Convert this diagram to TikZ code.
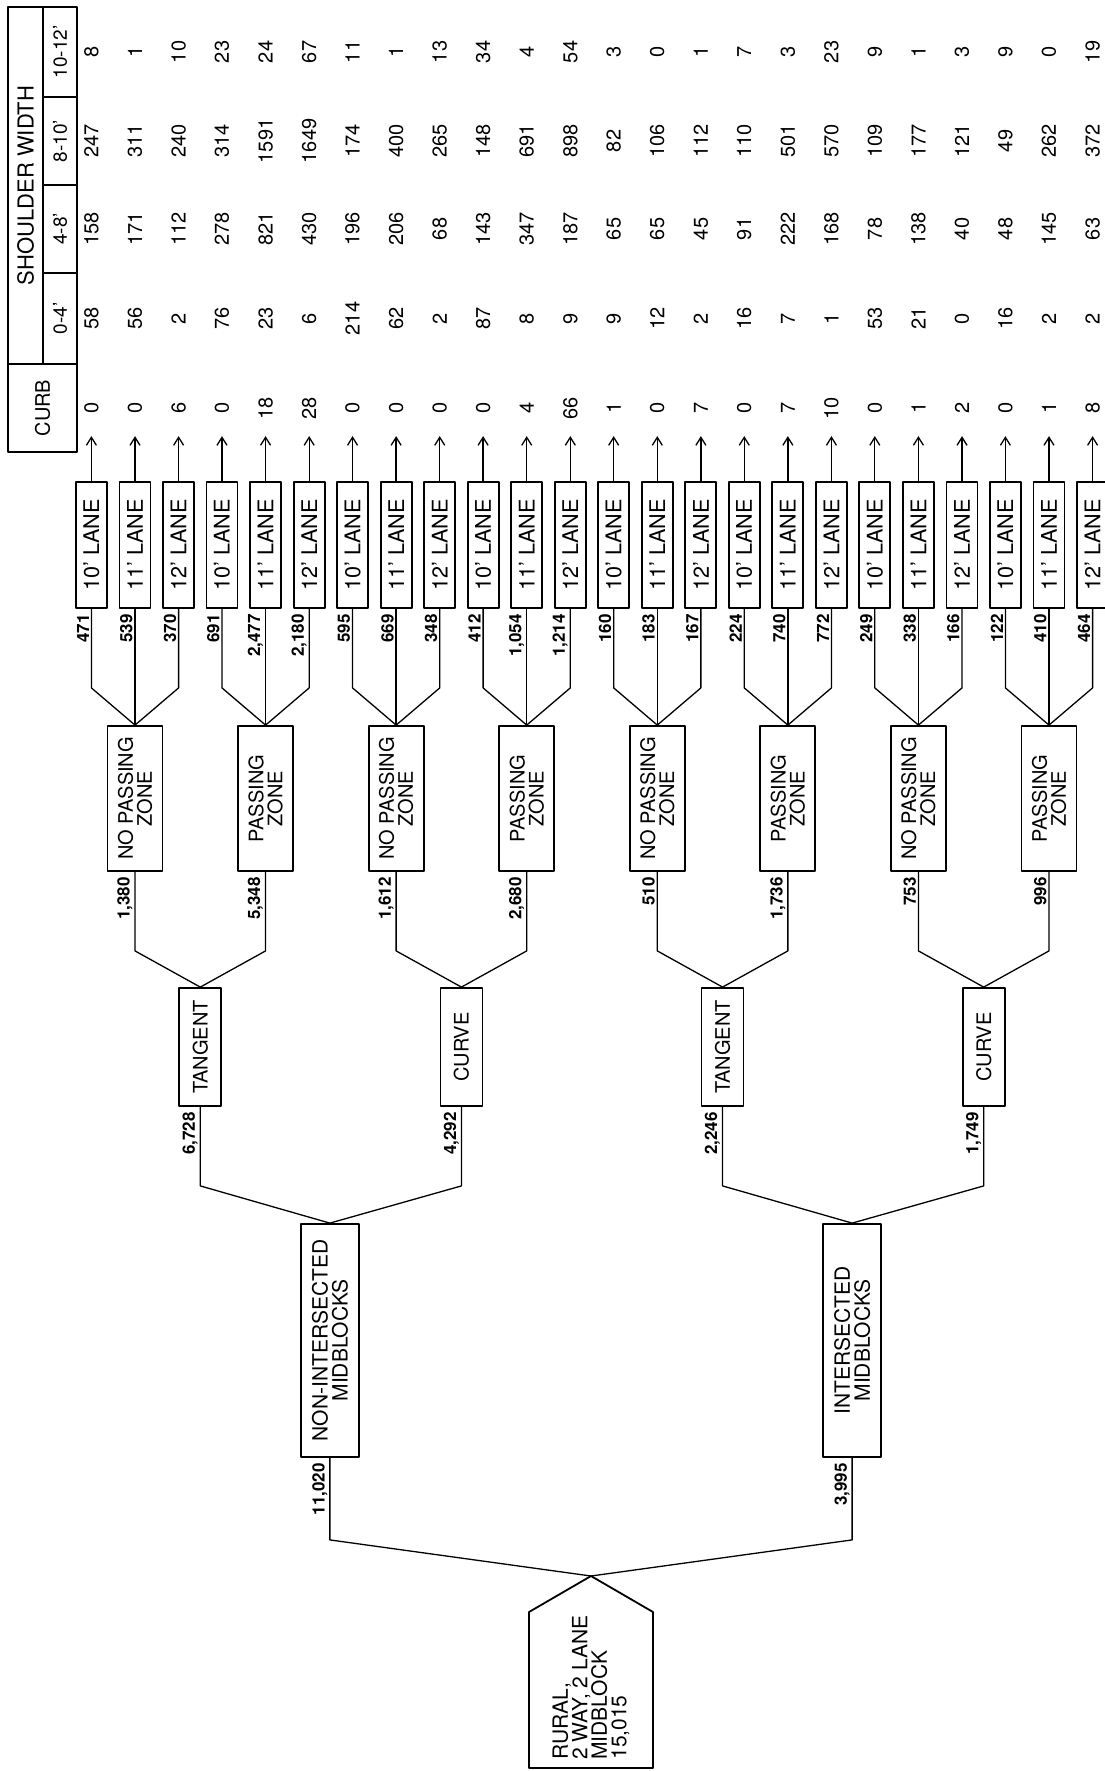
\documentclass[tikz,border=0pt]{standalone}
\usepackage{fontspec}
\setmainfont{TeX Gyre Heros}
\usetikzlibrary{calc, positioning}
\usetikzlibrary{arrows.meta}

\tikzset{
  boxline/.style={line width=0.9pt, line join=round},
  catbox/.style={draw, boxline, rotate=90, inner sep=0pt, align=center,
    font=\fontsize{10}{9.5}\selectfont},
  lanebox/.style={catbox, minimum width=63pt, minimum height=15.5pt, font=\fontsize{10.8}{10}\selectfont},
  zonebox/.style={catbox, minimum width=72.5pt, minimum height=27.5pt},
  roadbox/.style={catbox, minimum width=59pt, minimum height=21pt},
  blockbox/.style={catbox, minimum width=116.5pt, minimum height=29pt, font=\fontsize{10.5}{10}\selectfont},
  hdcell/.style={draw, boxline, rotate=90, inner sep=0pt, font=\fontsize{10}{10}\selectfont},
  cnt/.style={rotate=90, inner sep=0pt, anchor=south east, font=\bfseries\fontsize{8.5}{8.5}\selectfont},
  val/.style={rotate=90, inner sep=0pt, font=\fontsize{10}{10}\selectfont},
  link/.style={line width=0.65pt, line join=round},
  flow/.style={link, -{Straight Barb[length=4pt,width=5pt]}}
}

\begin{document}
\begin{tikzpicture}[x=0.5pt, y=-0.5pt]
\useasboundingbox (0,0) rectangle (1104,1771);
\def\gap{130.57}
\def\lanegap{43.6}
\def\knee{79}

% root
\coordinate (apex) at (591,1576);
\draw[boxline] (apex) -- ++(62,36) -- ++(0,156) -- ++(-124,0) -- ++(0,-156) -- cycle;
\node[val, anchor=west, align=left, font=\fontsize{10.5}{9.75}\selectfont] (root) at (591,1760)
  {RURAL,\\2 WAY, 2 LANE\\MIDBLOCK\\15,015};

% midblocks
\foreach \m/\mt/\mn in {0/NON-INTERSECTED/{11,020}, 1/INTERSECTED/{3,995}}{
  \pgfmathsetmacro{\mx}{134+\gap*(4*\m+1.5)}
  \node[blockbox] (block\m) at (\mx,1340.5) {\mt\\MIDBLOCKS};
  \draw[link] (block\m.west) -- ++(0,82) -- (apex);
  \node[cnt] (blockcnt\m) at ($(block\m.west)+(-2,5)$) {\mn};
}

% tangent / curve
\foreach \r/\rt/\rn in {0/TANGENT/{6,728}, 1/CURVE/{4,292}, 2/TANGENT/{2,246}, 3/CURVE/{1,749}}{
  \pgfmathsetmacro{\rx}{135+\gap*(2*\r+0.5)}
  \pgfmathtruncatemacro{\rb}{\r/2}
  \node[roadbox] (road\r) at (\rx,1047) {\rt};
  \draw[link] (road\r.west) -- ++(0,\knee) -- (block\rb.east);
  \node[cnt] (roadcnt\r) at ($(road\r.west)+(-2,5)$) {\rn};
}

% passing zones
\foreach \z/\zt/\zn in {0/NO PASSING/{1,380}, 1/PASSING/{5,348}, 2/NO PASSING/{1,612}, 3/PASSING/{2,680},
    4/NO PASSING/510, 5/PASSING/{1,736}, 6/NO PASSING/753, 7/PASSING/996}{
  \pgfmathsetmacro{\zx}{135+\gap*\z}
  \pgfmathtruncatemacro{\zr}{\z/2}
  \node[zonebox] (zone\z) at (\zx,798.5) {\zt\\ZONE};
  \draw[link] (zone\z.west) -- ++(0,\knee) -- (road\zr.east);
  \node[cnt] (zonecnt\z) at ($(zone\z.west)+(-2,5)$) {\zn};
}

% lanes and the counts by curb / shoulder width
\foreach [count=\i from 0] \w/\n/\cu/\sa/\sb/\sc/\sd in {
  10/471/0/58/158/247/8, 11/539/0/56/171/311/1, 12/370/6/2/112/240/10,
  10/691/0/76/278/314/23, 11/{2,477}/18/23/821/1591/24, 12/{2,180}/28/6/430/1649/67,
  10/595/0/214/196/174/11, 11/669/0/62/206/400/1, 12/348/0/2/68/265/13,
  10/412/0/87/143/148/34, 11/{1,054}/4/8/347/691/4, 12/{1,214}/66/9/187/898/54,
  10/160/1/9/65/82/3, 11/183/0/12/65/106/0, 12/167/7/2/45/112/1,
  10/224/0/16/91/110/7, 11/740/7/7/222/501/3, 12/772/10/1/168/570/23,
  10/249/0/53/78/109/9, 11/338/1/21/138/177/1, 12/166/2/0/40/121/3,
  10/122/0/16/48/49/9, 11/410/1/2/145/262/0, 12/464/8/2/63/372/19}{
  \pgfmathtruncatemacro{\zi}{\i/3}
  \pgfmathsetmacro{\lx}{135+\gap*\zi+\lanegap*(mod(\i,3)-1)}
  \node[lanebox] (lane\i) at (\lx,545) {\w' LANE};
  \draw[link] (lane\i.west) -- ++(0,\knee) -- (zone\zi.east);
  \node[cnt] (lanecnt\i) at ($(lane\i.west)+(-2,5)$) {\n};
  \draw[flow] (lane\i.east) -- ++(0,-45);
  \node[val] (curb\i) at (\lx,408) {\cu};
  \node[val] (swa\i) at (\lx,318.5) {\sa};
  \node[val] (swb\i) at (\lx,229) {\sb};
  \node[val] (swc\i) at (\lx,141) {\sc};
  \node[val] (swd\i) at (\lx,52) {\sd};
}

% table header
\node[hdcell, minimum width=44pt, minimum height=34.5pt] (curbhd) at (42.5,408) {CURB};
\node[hdcell, minimum width=178.5pt, minimum height=17.5pt, font=\fontsize{11}{11}\selectfont] (shwd) at (25.5,185.5) {SHOULDER WIDTH};
\foreach \h/\hy/\hw/\hlab in {0/318.5/45.5/0-4', 1/229/44/4-8', 2/141/44/8-10', 3/52/45/10-12'}
  \node[hdcell, minimum width=\hw pt, minimum height=17pt, font=\fontsize{9.5}{9.5}\selectfont] (swhd\h) at (60,\hy) {\hlab};
\end{tikzpicture}
\end{document}
